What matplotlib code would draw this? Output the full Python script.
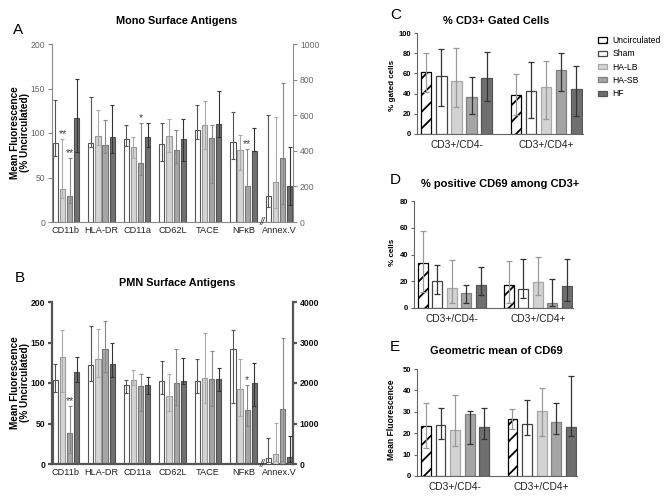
import numpy as np
import matplotlib
matplotlib.use('Agg')
import matplotlib.pyplot as plt

plt.rcParams['font.family'] = ['Liberation Sans', 'DejaVu Sans']
plt.rcParams['hatch.linewidth'] = 1.3

W, H = 671, 500

# ---- panels A and B : surface antigens (% uncirculated), Annex.V on right axis
ab_groups = ['CD11b', 'HLA-DR', 'CD11a', 'CD62L', 'TACE', 'NFκB', 'Annex.V']
ab_series = ['Sham', 'HA-LB', 'HA-SB', 'HF']

a_mean = [[89, 89, 93, 88, 103, 90, 145],
          [37, 97, 84, 97, 109, 81, 227],
          [29.5, 87, 66, 81, 94, 40, 362],
          [117, 95, 95.5, 93, 110, 80, 205]]
a_lo = [[74, 84, 85, 68, 93, 71, 82],
        [27, 87, 72, 79, 82, 58, 80],
        [21, 77, 53, 66, 44, 40, 100],
        [79, 77, 84, 68, 96, 80, 94]]
a_hi = [[137, 141, 109, 111, 131, 124, 600],
        [93, 126, 95, 116, 136, 98, 590],
        [72, 115, 111, 103, 109, 82, 783],
        [161, 131, 111, 116, 147, 106, 421]]
a_stars = [(0, 1, '**'), (0, 2, '**'), (2, 2, '*'), (5, 2, '**')]

b_mean = [[104, 122, 98, 102, 103, 142, 152],
          [132, 130, 104, 83.5, 106, 93, 250],
          [38, 142, 96, 100, 104.5, 67, 1365],
          [113, 123, 98, 102, 104.5, 100, 181]]
b_lo = [[89, 102, 88, 87, 88, 75, 60],
        [89, 108, 97, 66, 75, 59, 80],
        [13, 114, 66, 73, 71, 47, 85],
        [101, 107, 87, 99, 90, 71, 55]]
b_hi = [[123, 170, 104, 127, 130, 166, 630],
        [166, 167, 116, 111, 162, 130, 1022],
        [72, 177, 111, 142, 139, 97, 3120],
        [132, 149, 107, 131, 119, 125, 701]]
b_stars = [(0, 2, '**'), (5, 2, '*')]

# ---- panels C, D, E : T cells
cde_groups = ['CD3+/CD4-', 'CD3+/CD4+']
cde_series = ['Uncirculated', 'Sham', 'HA-LB', 'HA-SB', 'HF']

c_mean = [[61, 38.5], [57, 43], [52.5, 47], [36.5, 63.5], [55, 45]]
c_lo = [[42, 19], [28, 16], [27, 15], [20, 43], [33, 18]]
c_hi = [[80, 59], [84, 71], [85, 72], [56, 80], [81, 67]]

d_mean = [[34, 17.5], [20, 14], [15, 19.5], [11.5, 3.7], [17, 16.8]]
d_lo = [[12, 4], [10.7, 7.8], [4, 9.5], [4, 1.3], [10, 5.5]]
d_hi = [[57.5, 35.5], [32, 36.5], [36, 38.5], [17, 22], [30.5, 37]]

e_mean = [[23.3, 26.7], [23.8, 24.2], [21.4, 30.2], [28.8, 25.2], [22.8, 22.8]]
e_lo = [[13, 22], [17.5, 19], [13.8, 18.9], [14.8, 19.5], [17.5, 18.9]]
e_hi = [[34.2, 31.1], [32, 35.3], [37.7, 41], [30.6, 34], [31.6, 46.6]]

# styles
ab_face = ['white', '#d4d4d4', '#a6a6a6', '#707070']
ab_edge = ['#555555', '#9a9a9a', '#777777', '#4f4f4f']
ab_ecol = ['#555555', '#aaaaaa', '#888888', '#333333']
cde_face = ['white', 'white', '#d3d3d3', '#a5a5a5', '#6f6f6f']
cde_edge = ['black', '#444444', '#a8a8a8', '#808080', '#555555']
cde_ecol = ['#999999', '#333333', '#999999', '#333333', '#333333']


def rect(l, t, r, b):
    return [l / W, 1 - b / H, (r - l) / W, (b - t) / H]


fig = plt.figure(figsize=(W / 100, H / 100), dpi=100)


def surface_panel(box, mean, lo, hi, stars, ymax2, step2, spine_col, spine_lw, tick_col, bold):
    ax = fig.add_axes(rect(*box))
    ax2 = ax.twinx()
    n = len(ab_groups) - 1
    for si in range(4):
        xs = np.arange(n) + (si - 1.5) * 0.2
        m = np.array(mean[si][:n])
        err = [m - np.array(lo[si][:n]), np.array(hi[si][:n]) - m]
        ax.bar(xs, m, 0.145, color=ab_face[si], edgecolor=ab_edge[si], linewidth=0.8, zorder=2)
        ax.errorbar(xs, m, yerr=err, fmt='none', ecolor=ab_ecol[si], elinewidth=0.8,
                    capsize=1.2, capthick=0.8, zorder=3)
        xa = n + (si - 1.5) * 0.2
        ma = mean[si][n]
        ax2.bar([xa], [ma], 0.145, color=ab_face[si], edgecolor=ab_edge[si], linewidth=0.8, zorder=2)
        ax2.errorbar([xa], [ma], yerr=[[ma - lo[si][n]], [hi[si][n] - ma]], fmt='none',
                     ecolor=ab_ecol[si], elinewidth=0.8, capsize=1.2, capthick=0.8, zorder=3)
    for g, si, lab in stars:
        ax.annotate(lab, (g + (si - 1.5) * 0.2, hi[si][g]), xytext=(0, 0),
                    textcoords='offset points', ha='center', va='bottom', fontsize=7.5,
                    color='#444444')
    ax.set_xlim(-0.394, 6.39)
    ax.set_ylim(0, 200)
    ax2.set_ylim(0, ymax2)
    ax.set_yticks(range(0, 201, 50))
    ax2.set_yticks(np.arange(0, ymax2 + 1, step2))
    ax.set_xticks(range(len(ab_groups)))
    ax.set_xticklabels(ab_groups)
    for a in (ax, ax2):
        a.spines['top'].set_visible(False)
        for s in a.spines.values():
            s.set_color(spine_col)
            s.set_linewidth(spine_lw)
    ax.spines['right'].set_visible(False)
    ax2.spines['left'].set_visible(False)
    ax2.spines['bottom'].set_visible(False)
    ax.tick_params(axis='x', length=0, labelsize=6.6, pad=3, labelcolor='#222222')
    ax.tick_params(axis='y', direction='out', length=3, width=spine_lw, color=spine_col,
                   labelsize=6.2, pad=2, labelcolor=tick_col)
    ax2.tick_params(axis='y', direction='out', length=3, width=spine_lw, color=spine_col,
                    labelsize=6.2, pad=2, labelcolor=tick_col)
    if bold:
        for t in ax.get_yticklabels() + ax2.get_yticklabels():
            t.set_fontweight('bold')
    ax.text(5.52, 0, '//', ha='center', va='center', fontsize=7, style='italic',
            color='#333333', zorder=5)
    return ax


surface_panel((52, 44, 293, 222), a_mean, a_lo, a_hi, a_stars, 1000, 200,
              '#8a8a8a', 0.8, '#666666', False)
surface_panel((52, 302, 293, 464), b_mean, b_lo, b_hi, b_stars, 4000, 1000,
              '#555555', 1.6, '#111111', True)


def tcell_panel(box, mean, lo, hi, ymax, ystep):
    ax = fig.add_axes(rect(*box))
    handles = []
    for si in range(5):
        xs = np.arange(2) + (si - 2) * 0.168
        m = np.array(mean[si])
        err = [m - np.array(lo[si]), np.array(hi[si]) - m]
        h = ax.bar(xs, m, 0.115, color=cde_face[si], edgecolor=cde_edge[si], linewidth=0.9,
                   hatch='//' if si == 0 else None, zorder=2, label=cde_series[si])
        ax.errorbar(xs, m, yerr=err, fmt='none', ecolor=cde_ecol[si], elinewidth=0.9,
                    capsize=2.5, capthick=0.9, zorder=3)
        handles.append(h)
    ax.set_xlim(-0.44, 1.41)
    ax.set_ylim(0, ymax)
    ax.set_yticks(np.arange(0, ymax + 1, ystep))
    ax.set_xticks([0, 1])
    ax.set_xticklabels(cde_groups)
    ax.spines['top'].set_visible(False)
    ax.spines['right'].set_visible(False)
    for s in ('left', 'bottom'):
        ax.spines[s].set_color('#666666')
        ax.spines[s].set_linewidth(0.8)
    ax.tick_params(axis='x', length=0, labelsize=7.3, pad=4, labelcolor='#222222')
    ax.tick_params(axis='y', direction='out', length=2.5, color='#666666', labelsize=5.5, pad=1.5)
    for t in ax.get_yticklabels():
        t.set_fontweight('bold')
    return ax, handles


axc, hc = tcell_panel((417, 33, 583, 134), c_mean, c_lo, c_hi, 100, 20)
tcell_panel((414, 201, 573, 308), d_mean, d_lo, d_hi, 80, 20)
tcell_panel((417, 369, 577, 476), e_mean, e_lo, e_hi, 50, 10)

fig.legend(handles=hc, labels=cde_series, loc='upper left',
           bbox_to_anchor=(598 / W, 1 - 36 / H), frameon=False, fontsize=6.2,
           handlelength=1.1, handleheight=0.55, labelspacing=0.5, handletextpad=0.6,
           borderaxespad=0, borderpad=0)


def ftext(x, y, s, **kw):
    fig.text(x / W, 1 - y / H, s, ha='center', va='center', **kw)


# titles, letters, axis labels
ftext(177, 21, 'Mono Surface Antigens', fontsize=7.8, fontweight='bold')
ftext(177, 283, 'PMN Surface Antigens', fontsize=7.8, fontweight='bold')
ftext(496, 21, '% CD3+ Gated Cells', fontsize=8, fontweight='bold')
ftext(500, 184, '% positive CD69 among CD3+', fontsize=8, fontweight='bold')
ftext(496, 351, 'Geometric mean of CD69', fontsize=8, fontweight='bold')
ftext(18, 30, 'A', fontsize=11)
ftext(20, 278, 'B', fontsize=11)
ftext(396, 15, 'C', fontsize=11)
ftext(395, 180, 'D', fontsize=11)
ftext(395, 347, 'E', fontsize=11)
ftext(20, 133, 'Mean Fluorescence\n(% Uncirculated)', fontsize=7.2, fontweight='bold',
      rotation=90, multialignment='center', linespacing=1.1)
ftext(20, 383, 'Mean Fluorescence\n(% Uncirculated)', fontsize=7.2, fontweight='bold',
      rotation=90, multialignment='center', linespacing=1.1)
ftext(393, 85, '% gated cells', fontsize=5.8, fontweight='bold', rotation=90)
ftext(393, 252, '% cells', fontsize=5.8, fontweight='bold', rotation=90)
ftext(391, 420, 'Mean Fluorescence', fontsize=6.2, fontweight='bold', rotation=90)

fig.savefig('out.png', dpi=100)
